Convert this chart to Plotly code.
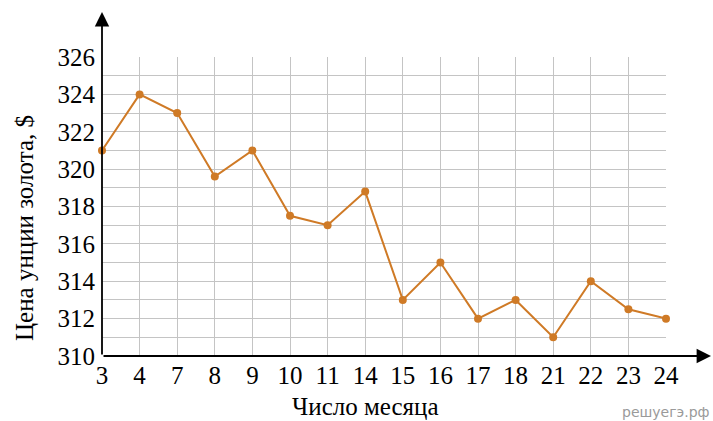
import plotly.graph_objects as go

days = ["3", "4", "7", "8", "9", "10", "11", "14", "15", "16", "17", "18", "21", "22", "23", "24"]
prices = [321, 324, 323, 319.6, 321, 317.5, 317, 318.8, 313, 315, 312, 313, 311, 314, 312.5, 312]
y_ticks = [310, 312, 314, 316, 318, 320, 322, 324, 326]

idx = list(range(len(days)))
W, H = 713, 421
ml, mr, mt, mb = 102, 2, 12, 65
pw = W - ml - mr
ph = H - mt - mb
n = len(days) - 1
xdom = (n * 37.6) / pw
ydom = (356 - 57) / ph

font = "Liberation Serif"
color = "#cf7a26"

fig = go.Figure()
fig.add_trace(go.Scatter(
    x=idx, y=prices, mode="lines+markers",
    line=dict(color=color, width=2),
    marker=dict(color=color, size=8),
    hoverinfo="skip", cliponaxis=False,
))

fig.update_layout(
    width=W, height=H,
    margin=dict(l=ml, r=mr, t=mt, b=mb, autoexpand=False),
    plot_bgcolor="white", paper_bgcolor="white",
    showlegend=False,
    xaxis=dict(
        domain=[0, xdom], range=[0, n],
        tickvals=idx, ticktext=days,
        showgrid=True, gridcolor="#c4c4c4", gridwidth=1.3,
        zeroline=False, showline=False, ticks="",
        ticklabelstandoff=2,
        tickfont=dict(family=font, size=25, color="black"),
    ),
    yaxis=dict(
        domain=[0, ydom], range=[310, 326],
        tickvals=y_ticks,
        showgrid=True, gridcolor="#c4c4c4", gridwidth=1.3,
        minor=dict(dtick=1, tick0=310, showgrid=True, gridcolor="#c4c4c4", gridwidth=1.3),
        zeroline=False, showline=False, ticks="",
        ticklabelstandoff=6,
        tickfont=dict(family=font, size=25, color="black"),
    ),
)

fig.add_annotation(x=1, y=0, xref="paper", yref="paper",
                   ax=-pw, ay=0, axref="pixel", ayref="pixel",
                   showarrow=True, arrowhead=2, arrowsize=1.6, arrowwidth=1.8,
                   arrowcolor="black", text="")
fig.add_annotation(x=0, y=1, xref="paper", yref="paper",
                   ax=0, ay=ph, axref="pixel", ayref="pixel",
                   showarrow=True, arrowhead=2, arrowsize=1.6, arrowwidth=1.8,
                   arrowcolor="black", text="")

fig.add_annotation(text="Число месяца", x=(365 - ml) / pw, y=-(406 - 356) / ph,
                   xref="paper", yref="paper", showarrow=False,
                   font=dict(family=font, size=25, color="black"),
                   xanchor="center", yanchor="middle")
fig.add_annotation(text="Цена унции золота, $", x=(24 - ml) / pw, y=(356 - 228) / ph,
                   xref="paper", yref="paper", showarrow=False, textangle=-90,
                   font=dict(family=font, size=25, color="black"),
                   xanchor="center", yanchor="middle")
fig.add_annotation(text="решуегэ.рф", x=(712 - ml) / pw, y=-(412 - 356) / ph,
                   xref="paper", yref="paper", showarrow=False,
                   font=dict(family="DejaVu Sans", size=14, color="#9a9a9a"),
                   xanchor="right", yanchor="middle")

fig.write_html("out.html", config={"displayModeBar": False},
               post_script="document.body.style.margin='0px';")
